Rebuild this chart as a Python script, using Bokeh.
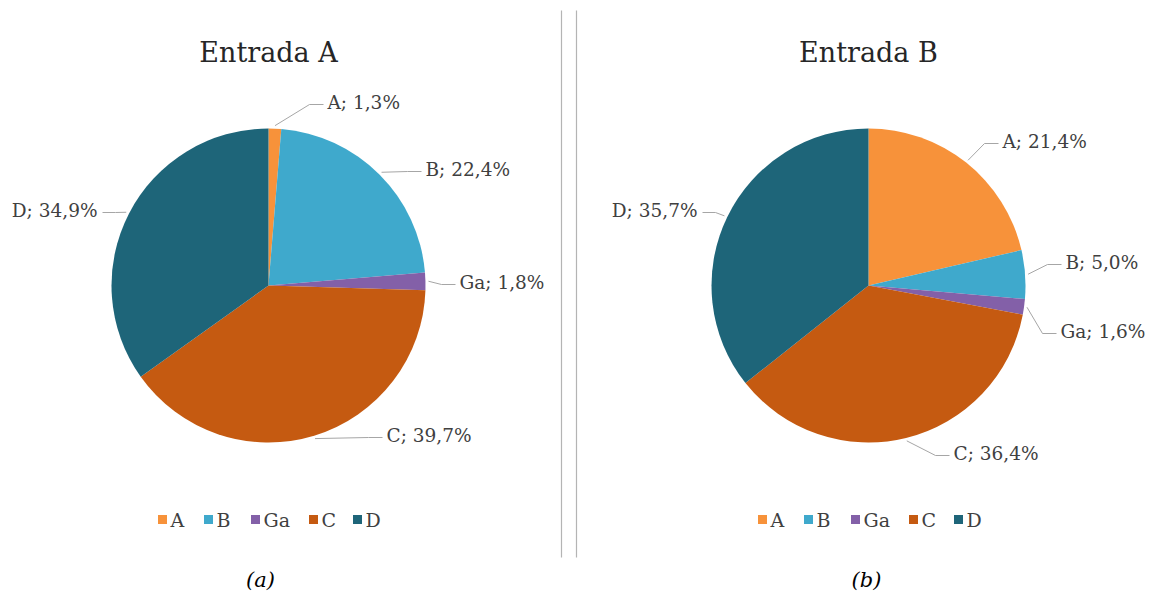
import math
from bokeh.plotting import figure
from bokeh.models import Range1d, ColumnDataSource
from bokeh.core.properties import value
from bokeh.embed import file_html
from bokeh.resources import INLINE

# ---------------- data ----------------
categories = ["A", "B", "Ga", "C", "D"]
titles = ["Entrada A", "Entrada B"]
captions = ["(a)", "(b)"]
values_a = [1.3, 22.4, 1.8, 39.7, 34.9]
values_b = [21.4, 5.0, 1.6, 36.4, 35.7]

# ---------------- styles / layout ----------------
colors = ["#F7923A", "#3FA9CC", "#8360A8", "#C55A11", "#1E6579"]
SERIF = "DejaVu Serif"
TXT = "#404040"
R = 157
centers = [(268, 285), (868, 285)]
# label anchor (x, y, align) in page pixels, per chart per category
label_pos = [
    [(327, 102, "left"), (425, 169, "left"), (459, 282, "left"), (386, 435, "left"), (97, 210, "right")],
    [(1002, 141, "left"), (1065, 262, "left"), (1060, 331, "left"), (953, 453, "left"), (697, 210, "right")],
]
legend_x = [[162, 208, 255, 313, 357], [762, 808, 855, 913, 958]]
legend_y = 519
title_x = [268, 868]
caption_x = [260, 866]

W, H = 1150, 596
p = figure(width=W, height=H, output_backend="svg", toolbar_location=None,
           x_range=Range1d(0, W), y_range=Range1d(-H, 0), min_border=0)
p.axis.visible = False
p.grid.visible = False
p.outline_line_color = None
p.background_fill_color = "white"
p.border_fill_color = "white"

def Y(v):
    return -v

for ci, vals in enumerate([values_a, values_b]):
    cx, cy = centers[ci]
    total = sum(vals)
    starts, ends, mids = [], [], []
    cum = 0.0
    for v in vals:
        f0 = cum / total
        cum += v
        f1 = cum / total
        starts.append(math.pi / 2 - 2 * math.pi * f1)
        ends.append(math.pi / 2 - 2 * math.pi * f0)
        mids.append(2 * math.pi * (f0 + f1) / 2)  # clockwise from top
    src = ColumnDataSource(dict(start=starts, end=ends, color=colors,
                                x=[cx] * 5, y=[Y(cy)] * 5))
    p.wedge(x="x", y="y", radius=R, start_angle="start", end_angle="end",
            color="color", line_color=None, source=src)

    # labels and leader lines
    for k, (cat, v) in enumerate(zip(categories, vals)):
        lx, ly, al = label_pos[ci][k]
        txt = f"{cat}; {v:.1f}%".replace(".", ",")
        p.text(x=[lx], y=[Y(ly)], text=[txt], text_font=value(SERIF),
               text_font_size="18.5px", text_color=TXT, text_align=al,
               text_baseline="middle")
        th = mids[k]
        sx = cx + (R + 3) * math.sin(th)
        sy = cy - (R + 3) * math.cos(th)
        if al == "left":
            ex = lx - 4
            elbow = lx - 18
        else:
            ex = lx + 5
            elbow = lx + 18
        ey = ly + 2
        if (al == "left" and sx < elbow) or (al == "right" and sx > elbow):
            xs = [sx, elbow, ex]
            ys = [Y(sy), Y(ey), Y(ey)]
        else:
            xs = [sx, ex]
            ys = [Y(sy), Y(ey)]
        p.line(xs, ys, line_color="#A6A6A6", line_width=1)

    # title
    p.text(x=[title_x[ci]], y=[Y(52)], text=[titles[ci]], text_font=value(SERIF),
           text_font_size="27px", text_color="#262626", text_align="center",
           text_baseline="middle")

    # legend
    p.scatter(x=legend_x[ci], y=[Y(legend_y)] * 5, marker="square",
              size=9, color=colors, line_color=None)
    p.text(x=[x + 8 for x in legend_x[ci]], y=[Y(legend_y)] * 5, text=categories,
           text_font=value(SERIF), text_font_size="19px", text_color=TXT,
           text_align="left", text_baseline="middle")

    # caption
    p.text(x=[caption_x[ci]], y=[Y(579)], text=[captions[ci]], text_font=value(SERIF),
           text_font_style="italic", text_font_size="21px", text_color="#000000",
           text_align="center", text_baseline="middle")

# divider lines
p.segment(x0=[561, 576], y0=[Y(10), Y(10)], x1=[561, 576], y1=[Y(557), Y(557)],
          line_color="#B4B4B4", line_width=1.2)

open("out.html", "w").write(file_html(p, INLINE))
